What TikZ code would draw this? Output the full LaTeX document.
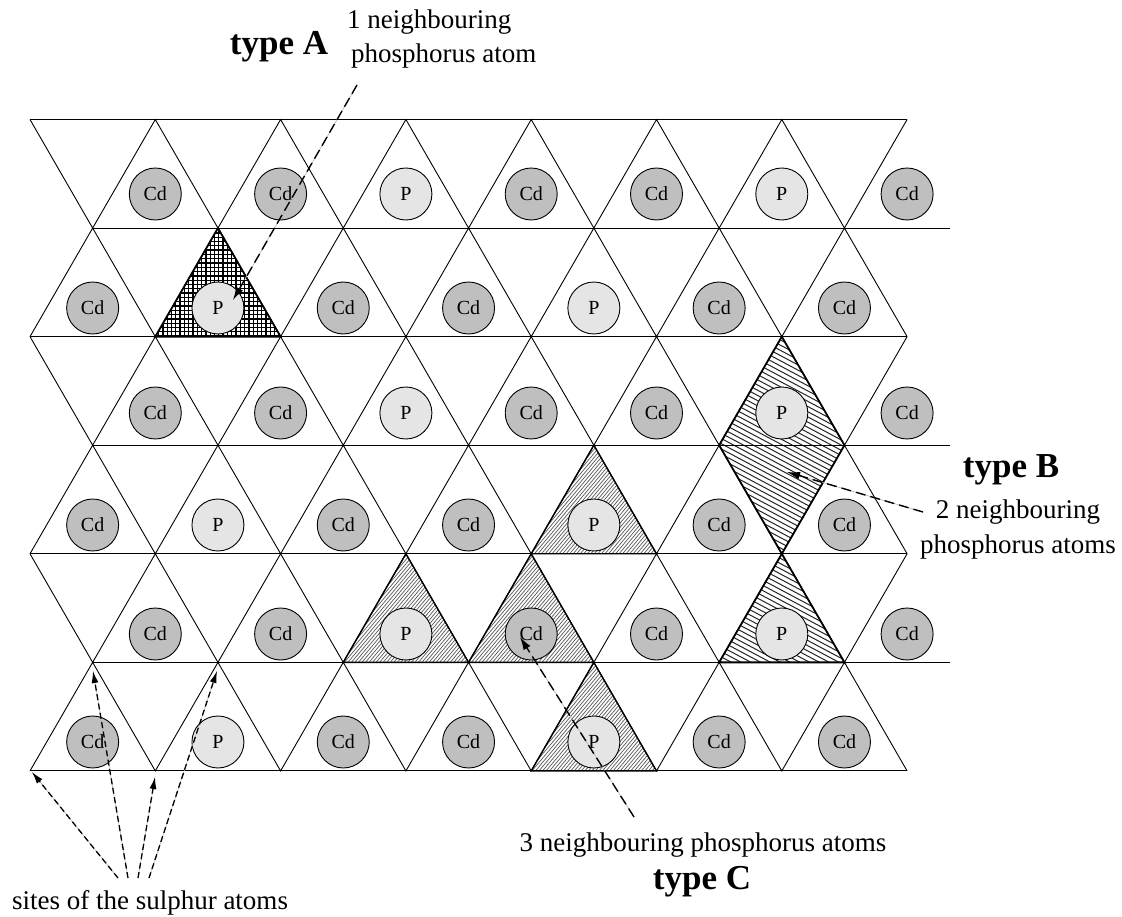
\documentclass[tikz,border=0pt]{standalone}
\usepackage{fontspec}
\setmainfont{Liberation Serif}
\usetikzlibrary{arrows.meta}
\colorlet{fillCd}{black!25}
\colorlet{fillP}{black!10}
\newcommand\atomrow[3]{%
  \foreach[count=\k] \t in {#3} {%
    \pgfmathsetmacro\ax{isodd(#1) ? xa(\k) : xb(\k-1)}%
    \node[atom, fill=fill\t] (a#1-\k) at (\ax,#2) {\t};%
  }}
\begin{document}
\begin{tikzpicture}[x=1pt,y=-1pt,
  declare function={xa(\k)=30+125.3*\k; xb(\k)=92.65+125.3*\k; yy(\i)=119.5+108.57*\i;},
  lat/.style={line width=0.9pt, line join=miter},
  hline/.style={line width=1pt},
  atom/.style={circle, draw, line width=0.9pt, minimum size=52pt, inner sep=0pt,
    font=\fontsize{20}{22}\selectfont},
  lbl/.style={font=\fontsize{27}{30}\selectfont, inner sep=0pt},
  typ/.style={font=\fontsize{35}{38}\selectfont\bfseries, inner sep=0pt},
  hA/.style={line width=1.3pt, black},
  hB/.style={line width=1pt, black!85},
  hC/.style={line width=0.7pt, black!65},
  bord/.style={line width=1.8pt, line join=miter},
  bordC/.style={line width=1.4pt, line join=miter},
  darr/.style={line width=1.4pt, dash pattern=on 10pt off 5pt, -{Latex[length=13pt,width=8pt]},
    preaction={draw=black!30, line width=0.6pt, solid, -}},
  sarr/.style={line width=1.3pt, dash pattern=on 6pt off 3.5pt, -{Latex[length=12pt,width=7pt]},
    preaction={draw=black!30, line width=0.6pt, solid, -}}
]
\fill[white] (0,0) rectangle (1122,917);

% hatching type A (cross-hatch)
\begin{scope}
  \clip ({xb(1)},{yy(1)}) -- ({xa(1)},{yy(2)}) -- ({xa(2)},{yy(2)}) -- cycle;
  \foreach \i in {0,...,34} {
    \draw[hA] ({150+4.3*\i},220) -- ++(0,125);
  }
  \foreach \i in {0,...,28} {
    \draw[hA] (145,{220+4.3*\i}) -- ++(145,0);
  }
\end{scope}
% hatching type B
\begin{scope}
  \clip ({xa(6)},{yy(2)}) -- ({xb(5)},{yy(3)}) -- ({xa(6)},{yy(4)}) -- ({xb(6)},{yy(3)}) -- cycle
        ({xa(6)},{yy(4)}) -- ({xb(5)},{yy(5)}) -- ({xb(6)},{yy(5)}) -- cycle;
  \foreach \i in {0,...,84} {
    \draw[hB] (700,{240+5.2*\i}) -- ++(170,90.4);
  }
\end{scope}
% hatching type C
\begin{scope}
  \clip ({xb(4)},{yy(3)}) -- ({xa(4)},{yy(4)}) -- ({xa(5)},{yy(4)}) -- cycle
        ({xa(3)},{yy(4)}) -- ({xb(2)},{yy(5)}) -- ({xb(3)},{yy(5)}) -- cycle
        ({xa(4)},{yy(4)}) -- ({xb(3)},{yy(5)}) -- ({xb(4)},{yy(5)}) -- cycle
        ({xb(4)},{yy(5)}) -- ({xa(4)},{yy(6)}) -- ({xa(5)},{yy(6)}) -- cycle;
  \foreach \i in {0,...,178} {
    \draw[hC] (330,{440+4.2*\i}) -- ++(340,-404.6);
  }
\end{scope}

% lattice: horizontal lines
\foreach \i in {0,2,4,6} \draw[hline] ({xa(0)},{yy(\i)}) -- ({xa(7)},{yy(\i)});
\foreach \i in {1,3,5} \draw[hline] ({xb(0)},{yy(\i)}) -- (950,{yy(\i)});
% lattice: zigzags
\foreach \r in {1,3,5} {
  \draw[lat] ({xa(0)},{yy(\r-1)}) \foreach \k in {0,...,6} { -- ({xb(\k)},{yy(\r)}) -- ({xa(\k+1)},{yy(\r-1)}) };
}
\foreach \r in {2,4,6} {
  \draw[lat] ({xa(0)},{yy(\r)}) \foreach \k in {0,...,6} { -- ({xb(\k)},{yy(\r-1)}) -- ({xa(\k+1)},{yy(\r)}) };
}

% borders of hatched regions
\draw[bord] ({xb(1)},{yy(1)}) -- ({xa(1)},{yy(2)}) -- ({xa(2)},{yy(2)}) -- cycle;
\draw[bord] ({xa(6)},{yy(2)}) -- ({xb(5)},{yy(3)}) -- ({xa(6)},{yy(4)}) -- ({xb(6)},{yy(3)}) -- cycle;
\draw[bord] ({xa(6)},{yy(4)}) -- ({xb(5)},{yy(5)}) -- ({xb(6)},{yy(5)}) -- cycle;
\draw[bordC] ({xb(4)},{yy(3)}) -- ({xa(4)},{yy(4)}) -- ({xa(5)},{yy(4)}) -- cycle;
\draw[bordC] ({xa(3)},{yy(4)}) -- ({xb(2)},{yy(5)}) -- ({xb(3)},{yy(5)}) -- cycle;
\draw[bordC] ({xa(4)},{yy(4)}) -- ({xb(3)},{yy(5)}) -- ({xb(4)},{yy(5)}) -- cycle;
\draw[bordC] ({xb(4)},{yy(5)}) -- ({xa(4)},{yy(6)}) -- ({xa(5)},{yy(6)}) -- cycle;

% atoms
\atomrow{1}{194}{Cd,Cd,P,Cd,Cd,P,Cd}
\atomrow{2}{308}{Cd,P,Cd,Cd,P,Cd,Cd}
\atomrow{3}{413}{Cd,Cd,P,Cd,Cd,P,Cd}
\atomrow{4}{525}{Cd,P,Cd,Cd,P,Cd,Cd}
\atomrow{5}{634}{Cd,Cd,P,Cd,Cd,P,Cd}
\atomrow{6}{742}{Cd,P,Cd,Cd,P,Cd,Cd}

% labels
\node[typ, anchor=base] (tA) at (279,55) {type A};
\node[lbl, anchor=base west] (nA1) at (347,29) {1 neighbouring};
\node[lbl, anchor=base west] (nA2) at (351,63) {phosphorus atom};
\node[typ, anchor=base] (tB) at (1011,477) {type B};
\node[lbl, anchor=base] (nB1) at (1018,518) {2 neighbouring};
\node[lbl, anchor=base] (nB2) at (1018,553) {phosphorus atoms};
\node[lbl, anchor=base] (nC) at (703,851) {3 neighbouring phosphorus atoms};
\node[typ, anchor=base] (tC) at (702,889) {type C};
\node[lbl, anchor=base] (sS) at (150,909) {sites of the sulphur atoms};

% arrow end points
\coordinate (sA) at (357,85);   \coordinate (eA) at (233,300);
\coordinate (sB) at (923,512);  \coordinate (eB) at (787,472);
\coordinate (sC) at (634,817);  \coordinate (eC) at (520,637);
\coordinate (s1) at (118,878);  \coordinate (e1) at (32,772);
\coordinate (s2) at (128,878);  \coordinate (e2) at (93,671);
\coordinate (s3) at (138,878);  \coordinate (e3) at (155,777);
\coordinate (s4) at (149,878);  \coordinate (e4) at (217,671);

\draw[darr] (sA) -- (eA);
\draw[darr] (sB) -- (eB);
\draw[darr] (sC) -- (eC);
\draw[sarr] (s1) -- (e1);
\draw[sarr] (s2) -- (e2);
\draw[sarr] (s3) -- (e3);
\draw[sarr] (s4) -- (e4);
\end{tikzpicture}
\end{document}
